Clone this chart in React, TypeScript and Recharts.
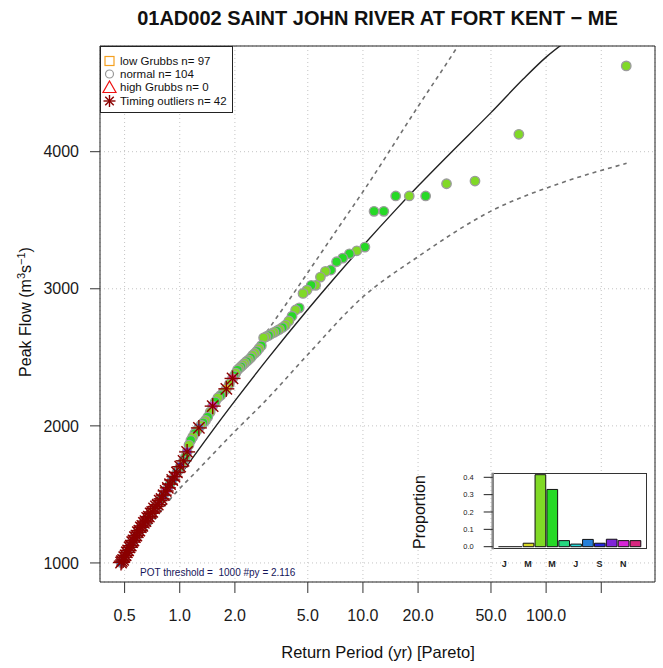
import React from 'react';
import {
  ComposedChart,
  Scatter,
  Line,
  XAxis,
  YAxis,
  CartesianGrid,
  ReferenceArea,
  ReferenceLine,
  BarChart,
  Bar,
  Cell,
} from 'recharts';

const FONT = '"Liberation Sans", Arial, Helvetica, sans-serif';

// POT peaks, largest first: plotting position (yr), peak (m3/s), month, timing flag
const returnPeriods = [
  273.8, 71.0, 40.9, 28.6, 22.0, 17.9, 15.1, 13.0, 11.5, 10.25,
  9.26, 8.44, 7.76, 7.18, 6.68, 6.24, 5.86, 5.52, 5.22, 4.95,
  4.71, 4.49, 4.29, 4.10, 3.94, 3.78, 3.64, 3.50, 3.38, 3.27,
  3.16, 3.06, 2.96, 2.87, 2.79, 2.71, 2.64, 2.57, 2.50, 2.44,
  2.375, 2.318, 2.263, 2.211, 2.161, 2.113, 2.068, 2.024, 1.982, 1.942,
  1.866, 1.796, 1.731, 1.671, 1.615, 1.562, 1.513, 1.466, 1.422, 1.382,
  1.343, 1.307, 1.272, 1.239, 1.208, 1.178, 1.150, 1.123, 1.097, 1.073,
  1.049, 1.027, 1.005, 0.985, 0.965, 0.936, 0.910, 0.885, 0.861, 0.838,
  0.817, 0.796, 0.777, 0.759, 0.741, 0.724, 0.708, 0.693, 0.678, 0.664,
  0.650, 0.637, 0.625, 0.613, 0.602, 0.590, 0.580, 0.569, 0.559, 0.550,
  0.540, 0.532, 0.523, 0.514, 0.506, 0.498, 0.491, 0.483, 0.478,
];

const peakFlows = [
  4626, 4127, 3786, 3766, 3677, 3677, 3677, 3565, 3565, 3304,
  3277, 3255, 3224, 3197, 3137, 3127, 3085, 3025, 3025, 2990,
  2966, 2861, 2845, 2800, 2765, 2735, 2718, 2704, 2692, 2682,
  2672, 2660, 2650, 2642, 2585, 2565, 2545, 2530, 2515, 2497,
  2482, 2470, 2458, 2445, 2432, 2420, 2408, 2385, 2365, 2346,
  2305, 2270, 2245, 2222, 2205, 2175, 2144, 2100, 2065, 2040,
  2022, 2005, 1985, 1965, 1945, 1920, 1895, 1860, 1810, 1772,
  1745, 1722, 1702, 1682, 1660, 1630, 1605, 1575, 1548, 1525,
  1495, 1468, 1455, 1425, 1412, 1398, 1372, 1362, 1338, 1328,
  1305, 1292, 1270, 1260, 1236, 1224, 1200, 1188, 1164, 1152,
  1126, 1114, 1092, 1077, 1055, 1042, 1022, 1013, 1003,
];

const peakMonths = [
  4, 4, 4, 4, 5, 4, 5, 5, 5, 5,
  4, 5, 5, 5, 5, 4, 4, 4, 5, 4,
  4, 5, 4, 5, 4, 4, 5, 4, 5, 4,
  4, 5, 4, 4, 5, 4, 5, 4, 4, 5,
  4, 5, 4, 4, 5, 4, 5, 4, 5, 12,
  4, 3, 4, 5, 4, 5, 11, 4, 5, 4,
  5, 4, 8, 4, 5, 4, 5, 4, 10, 5,
  6, 4, 9, 5, 7, 12, 8, 6, 10, 11,
  8, 9, 6, 10, 12, 7, 11, 3, 8, 6,
  10, 12, 9, 11, 6, 8, 7, 10, 12, 11,
  6, 9, 8, 10, 12, 11, 6, 3, 8,
];

const timingOutliers = [
  0, 0, 0, 0, 0, 0, 0, 0, 0, 0,
  0, 0, 0, 0, 0, 0, 0, 0, 0, 0,
  0, 0, 0, 0, 0, 0, 0, 0, 0, 0,
  0, 0, 0, 0, 0, 0, 0, 0, 0, 0,
  0, 0, 0, 0, 0, 0, 0, 0, 0, 1,
  0, 1, 0, 0, 0, 0, 1, 0, 0, 0,
  0, 0, 1, 0, 0, 0, 0, 0, 1, 0,
  1, 0, 1, 0, 1, 1, 1, 1, 1, 1,
  1, 1, 1, 1, 1, 1, 1, 1, 1, 1,
  1, 1, 1, 1, 1, 1, 1, 1, 1, 1,
  1, 1, 1, 1, 1, 1, 1, 1, 1,
];

// fitted Pareto curve and its confidence bounds
const fitReturn = [0.478, 0.6, 0.8, 1, 1.5, 2, 3, 5, 7, 10, 15, 20, 30, 50, 75, 100, 130];
const fitFlow = [1000, 1208, 1451, 1635, 1960, 2182, 2485, 2849, 3079, 3314, 3572, 3749, 3989, 4285, 4530, 4690, 4810];

const upperReturn = [0.478, 0.6, 0.8, 1, 1.5, 2, 3, 4.06, 7.09, 10.44, 20, 33, 40];
const upperFlow = [1010, 1250, 1530, 1740, 2090, 2340, 2690, 2942, 3416, 3745, 4330, 4771, 4950];

const lowerReturn = [0.478, 0.6, 0.75, 0.878, 1.28, 2.0, 2.9, 5, 9.8, 20, 51.3, 119, 275];
const lowerFlow = [990, 1165, 1340, 1458, 1690, 1960, 2175, 2520, 2930, 3234, 3574, 3769, 3915];

const xTicks = [0.5, 1, 2, 5, 10, 20, 50, 100, 200];
const yTicks = [1000, 2000, 3000, 4000];

// seasonality inset
const monthLetters = ['J', 'F', 'M', 'A', 'M', 'J', 'J', 'A', 'S', 'O', 'N', 'D'];
const monthProportions = [0, 0, 0.02, 0.415, 0.33, 0.035, 0.015, 0.042, 0.02, 0.043, 0.035, 0.035];
const monthColors = [
  '#D92626', '#D98026', '#D9D926', '#80D926', '#26D926', '#26D980',
  '#26D9D9', '#2680D9', '#2626D9', '#8026D9', '#D926D9', '#D92680',
];
const insetTicks = [1, 3, 5, 7, 9, 11];
const propTicks = [0, 0.1, 0.2, 0.3, 0.4];

const peaks = returnPeriods.map((x, i) => ({
  x,
  y: peakFlows[i],
  month: peakMonths[i],
  timing: timingOutliers[i],
}));
const timingPeaks = peaks.filter((p) => p.timing === 1);
const fitData = fitReturn.map((x, i) => ({ x, y: fitFlow[i] }));
const upperData = upperReturn.map((x, i) => ({ x, y: upperFlow[i] }));
const lowerData = lowerReturn.map((x, i) => ({ x, y: lowerFlow[i] }));
const monthData = monthProportions.map((share, i) => ({ month: i + 1, share }));

const PeakDot = (props: any) => {
  const { cx, cy, payload } = props;
  if (cx == null || cy == null) return null;
  return (
    <circle
      cx={cx}
      cy={cy}
      r={4.7}
      fill={monthColors[payload.month - 1]}
      stroke="#9c9c9c"
      strokeWidth={1.4}
    />
  );
};

function AsteriskGlyph({ cx, cy, r = 8 }: { cx: number; cy: number; r?: number }) {
  const d = r * 0.707;
  return (
    <g stroke="#8b0000" strokeWidth={1.4}>
      <line x1={cx - r} y1={cy} x2={cx + r} y2={cy} />
      <line x1={cx} y1={cy - r} x2={cx} y2={cy + r} />
      <line x1={cx - d} y1={cy - d} x2={cx + d} y2={cy + d} />
      <line x1={cx - d} y1={cy + d} x2={cx + d} y2={cy - d} />
    </g>
  );
}

const TimingMark = (props: any) => {
  const { cx, cy } = props;
  if (cx == null || cy == null) return null;
  return <AsteriskGlyph cx={cx} cy={cy} />;
};

function Legend() {
  const row = (top: number, icon: React.ReactNode, label: string) => (
    <div style={{ position: 'absolute', left: 0, top: top - 7, height: 14, width: 132 }}>
      <svg width={18} height={14} style={{ position: 'absolute', left: 0, top: 0 }}>
        {icon}
      </svg>
      <span style={{ position: 'absolute', left: 19, top: 0, lineHeight: '14px', whiteSpace: 'nowrap' }}>
        {label}
      </span>
    </div>
  );
  return (
    <div
      style={{
        position: 'absolute',
        left: 100,
        top: 46,
        width: 133,
        height: 67,
        boxSizing: 'border-box',
        border: '1px solid #222',
        background: '#fff',
        fontFamily: FONT,
        fontSize: 11.5,
        color: '#111',
      }}
    >
      {row(14, <rect x={4} y={2.5} width={9} height={9} fill="none" stroke="#f5a020" strokeWidth={1.2} />, 'low Grubbs n= 97')}
      {row(27, <circle cx={8.5} cy={7} r={4} fill="none" stroke="#999" strokeWidth={1.2} />, 'normal n= 104')}
      {row(40, <polygon points="8.5,1 15,12.5 2,12.5" fill="none" stroke="#ee1111" strokeWidth={1.2} />, 'high Grubbs n= 0')}
      {row(54, <AsteriskGlyph cx={8.5} cy={7} r={6} />, 'Timing outliers n= 42')}
    </div>
  );
}

function SeasonInset() {
  return (
    <>
      <div
        style={{
          position: 'absolute',
          left: 492.7,
          top: 472.7,
          width: 154,
          height: 76.6,
          boxSizing: 'border-box',
          border: '1px solid #333',
          background: '#fff',
        }}
      />
      <div style={{ position: 'absolute', left: 412, top: 460 }}>
        <BarChart
          width={248}
          height={115}
          data={monthData}
          margin={{ top: 12.7, right: 13.3, left: 0, bottom: 0 }}
        >
          <XAxis
            type="number"
            dataKey="month"
            domain={[0.02, 12.98]}
            ticks={insetTicks}
            interval={0}
            tickFormatter={(m: number) => monthLetters[m - 1]}
            tickLine={false}
            axisLine={false}
            tickSize={0}
            tickMargin={11}
            height={25.7}
            tick={{ fontSize: 9, fontWeight: 'bold', fill: '#222', fontFamily: FONT }}
          />
          <YAxis
            type="number"
            domain={[-0.015, 0.4265]}
            ticks={propTicks}
            interval={0}
            width={80.7}
            tickFormatter={(v: number) => v.toFixed(1)}
            tickSize={9}
            tickMargin={10}
            axisLine={{ stroke: '#8a8a8a', strokeWidth: 2.5 }}
            tickLine={{ stroke: '#222' }}
            tick={{ fontSize: 7.5, fill: '#222', fontFamily: FONT }}
          />
          <ReferenceLine
            segment={[{ x: 0.5, y: 0 }, { x: 2.5, y: 0 }]}
            stroke="#111"
            strokeWidth={1}
          />
          <Bar dataKey="share" barSize={12} stroke="#111" strokeWidth={1} isAnimationActive={false}>
            {monthData.map((d) => (
              <Cell key={d.month} fill={monthColors[d.month - 1]} />
            ))}
          </Bar>
        </BarChart>
      </div>
      <div
        style={{
          position: 'absolute',
          left: 420,
          top: 512,
          transform: 'translate(-50%, -50%) rotate(-90deg)',
          fontFamily: FONT,
          fontSize: 16,
          color: '#111',
          whiteSpace: 'nowrap',
        }}
      >
        Proportion
      </div>
    </>
  );
}

export default function App() {
  return (
    <div
      style={{
        position: 'absolute',
        left: 0,
        top: 0,
        width: 663,
        height: 668,
        background: '#fff',
        fontFamily: FONT,
        overflow: 'hidden',
      }}
    >
      <div
        style={{
          position: 'absolute',
          left: 0,
          width: 663,
          top: 7,
          paddingLeft: 92,
          boxSizing: 'border-box',
          textAlign: 'center',
          fontSize: 20,
          fontWeight: 'bold',
          color: '#111',
          whiteSpace: 'nowrap',
        }}
      >
        01AD002 SAINT JOHN RIVER AT FORT KENT − ME
      </div>

      <ComposedChart width={663} height={668} margin={{ top: 46, right: 8, bottom: 0, left: 0 }}>
        <CartesianGrid stroke="#c4c4c4" strokeDasharray="1 3" />
        <XAxis
          type="number"
          dataKey="x"
          scale="log"
          domain={[0.367, 393]}
          allowDataOverflow
          ticks={xTicks}
          interval={0}
          tickFormatter={(v: number) => (v === 200 ? '' : v.toFixed(1))}
          tickSize={11}
          tickMargin={17}
          axisLine={false}
          tickLine={{ stroke: '#333' }}
          height={86}
          tick={{ fontSize: 16, fill: '#1a1a1a', fontFamily: FONT }}
        />
        <YAxis
          type="number"
          dataKey="y"
          domain={[861, 4771]}
          allowDataOverflow
          ticks={yTicks}
          interval={0}
          width={100}
          tickSize={10}
          tickMargin={11}
          axisLine={false}
          tickLine={{ stroke: '#333' }}
          tick={{ fontSize: 16, fill: '#1a1a1a', fontFamily: FONT }}
        />
        <Line
          data={upperData}
          dataKey="y"
          type="monotone"
          stroke="#707070"
          strokeWidth={1.6}
          strokeDasharray="4 4"
          dot={false}
          activeDot={false}
          isAnimationActive={false}
        />
        <Line
          data={lowerData}
          dataKey="y"
          type="monotone"
          stroke="#707070"
          strokeWidth={1.6}
          strokeDasharray="4 4"
          dot={false}
          activeDot={false}
          isAnimationActive={false}
        />
        <Line
          data={fitData}
          dataKey="y"
          type="monotone"
          stroke="#222"
          strokeWidth={1.4}
          dot={false}
          activeDot={false}
          isAnimationActive={false}
        />
        <Scatter data={peaks} shape={PeakDot} isAnimationActive={false} />
        <Scatter data={timingPeaks} shape={TimingMark} isAnimationActive={false} />
        <ReferenceArea
          x1={0.367}
          x2={393}
          y1={861}
          y2={4771}
          fill="none"
          stroke="#222"
          strokeWidth={1}
          ifOverflow="visible"
        />
      </ComposedChart>

      <Legend />
      <SeasonInset />

      <div
        style={{
          position: 'absolute',
          left: 140,
          top: 567,
          fontSize: 10,
          lineHeight: '12px',
          color: '#15155a',
          whiteSpace: 'pre',
        }}
      >
        {'POT threshold =  1000 #py = 2.116'}
      </div>

      <div
        style={{
          position: 'absolute',
          left: 378,
          top: 652,
          transform: 'translate(-50%, -50%)',
          fontSize: 16.5,
          color: '#111',
          whiteSpace: 'nowrap',
        }}
      >
        Return Period (yr) [Pareto]
      </div>

      <div
        style={{
          position: 'absolute',
          left: 25,
          top: 312,
          transform: 'translate(-50%, -50%) rotate(-90deg)',
          fontSize: 16,
          color: '#111',
          whiteSpace: 'nowrap',
        }}
      >
        Peak Flow (m<sup style={{ fontSize: 11 }}>3</sup>s<sup style={{ fontSize: 11 }}>−1</sup>)
      </div>
    </div>
  );
}
